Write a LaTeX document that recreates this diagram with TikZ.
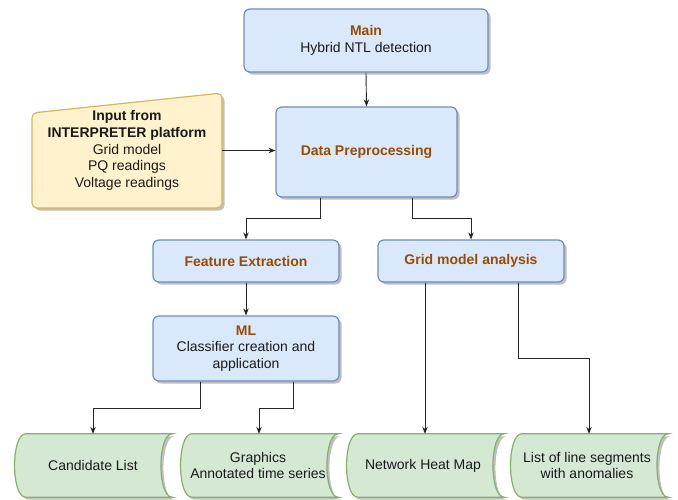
\documentclass[tikz,border=0pt]{standalone}
\usepackage{fontspec}
\setmainfont{Liberation Sans}
\usetikzlibrary{shadows,arrows.meta}
\definecolor{bfill}{HTML}{DAE8FC}
\definecolor{bline}{HTML}{6C8EBF}
\definecolor{yfill}{HTML}{FFF2CC}
\definecolor{yline}{HTML}{D6B656}
\definecolor{gfill}{HTML}{D5E8D4}
\definecolor{gline}{HTML}{82B366}
\definecolor{ttl}{HTML}{994C00}
\definecolor{txt}{HTML}{1A1A1A}
\begin{document}
\begin{tikzpicture}[x=1pt,y=-1pt,
  every node/.style={font=\fontsize{14}{16.8}\selectfont, align=center, inner sep=0pt, text=txt},
  shad/.style={drop shadow={opacity=0.25, shadow xshift=2.5pt, shadow yshift=-2.5pt, fill=black}},
  bluebox/.style={draw=bline, fill=bfill, line width=1.2pt, rounded corners=6pt, shad},
  yellowshape/.style={draw=yline, fill=yfill, line width=1.2pt, rounded corners=5pt, shad},
  greenshape/.style={draw=gline, fill=gfill, line width=1.2pt, shad},
  docnode/.style={minimum width=158pt, minimum height=63pt},
  arr/.style={draw=black!85, line width=0.9pt, -{Stealth[length=7pt,width=5.5pt]}},
  ttlfont/.style={font=\fontsize{14}{16.8}\selectfont\bfseries, text=ttl}
]
\useasboundingbox (0,0) rectangle (678,499);

% blue boxes
\node[bluebox, minimum width=244pt, minimum height=63pt] (main) at (366,40.5)
  {\textbf{\color{ttl}Main}\\Hybrid NTL detection};
\node[bluebox, ttlfont, minimum width=181pt, minimum height=90pt] (data) at (366.5,152) {Data Preprocessing};
\node[bluebox, ttlfont, minimum width=186pt, minimum height=42pt] (fe) at (246,261) {Feature Extraction};
\node[bluebox, ttlfont, minimum width=186pt, minimum height=42pt] (grid) at (471,261) {Grid model analysis};
\node[bluebox, minimum width=186pt, minimum height=65pt] (ml) at (246,348.5)
  {\textbf{\color{ttl}ML}\\Classifier creation and\\application};

% manual input shape
\coordinate (inSW) at (32,208);
\coordinate (inNW) at (32,113);
\coordinate (inNE) at (222,93);
\coordinate (inSE) at (222,208);
\draw[yellowshape] (inSW) -- (inNW) -- (inNE) -- (inSE) -- cycle;
\node[minimum width=190pt, minimum height=115pt] (input) at (127,150.5)
  {\textbf{Input from}\\\textbf{INTERPRETER platform}\\Grid model\\PQ readings\\Voltage readings};

% documents (data storage shapes)
\node[docnode] (docA) at (93,465.5) {};
\node[docnode] (docB) at (259,465.5) {};
\node[docnode] (docC) at (425,465.5) {};
\node[docnode] (docD) at (589,465.5) {};
\foreach \d in {docA,docB,docC,docD}{
  \draw[greenshape] ([xshift=12pt]\d.north west) -- (\d.north east)
    .. controls ([xshift=-15pt]\d.north east) and ([xshift=-15pt]\d.south east) .. (\d.south east)
    -- ([xshift=12pt]\d.south west)
    .. controls ([xshift=-3pt]\d.south west) and ([xshift=-3pt]\d.north west) .. ([xshift=12pt]\d.north west)
    -- cycle;
}
\node at (docA) {Candidate List};
\node at ([xshift=-1pt]docB.center) {Graphics\\Annotated time series};
\node at ([xshift=-2pt]docC.center) {Network Heat Map};
\node at ([xshift=-2pt]docD.center) {List of line segments\\with anomalies};

% connectors
\draw[arr] (main.south) -- (data.north);
\draw[arr] (input.east) -- (input.east -| data.west);
\draw[arr] ([xshift=-46.5pt]data.south) -- ++(0,21) -| (fe.north);
\draw[arr] ([xshift=45.5pt]data.south) -- ++(0,21) -| (grid.north);
\draw[arr] (fe.south) -- (ml.north);
\draw[arr] ([xshift=-46pt]ml.south) -- ++(0,27) -| (docA.north);
\draw[arr] ([xshift=47pt]ml.south) -- ++(0,27) -| (docB.north);
\draw[arr] (grid.south -| docC.north) -- (docC.north);
\draw[arr] ([xshift=47pt]grid.south) -- ++(0,76) -| (docD.north);
\end{tikzpicture}
\end{document}
